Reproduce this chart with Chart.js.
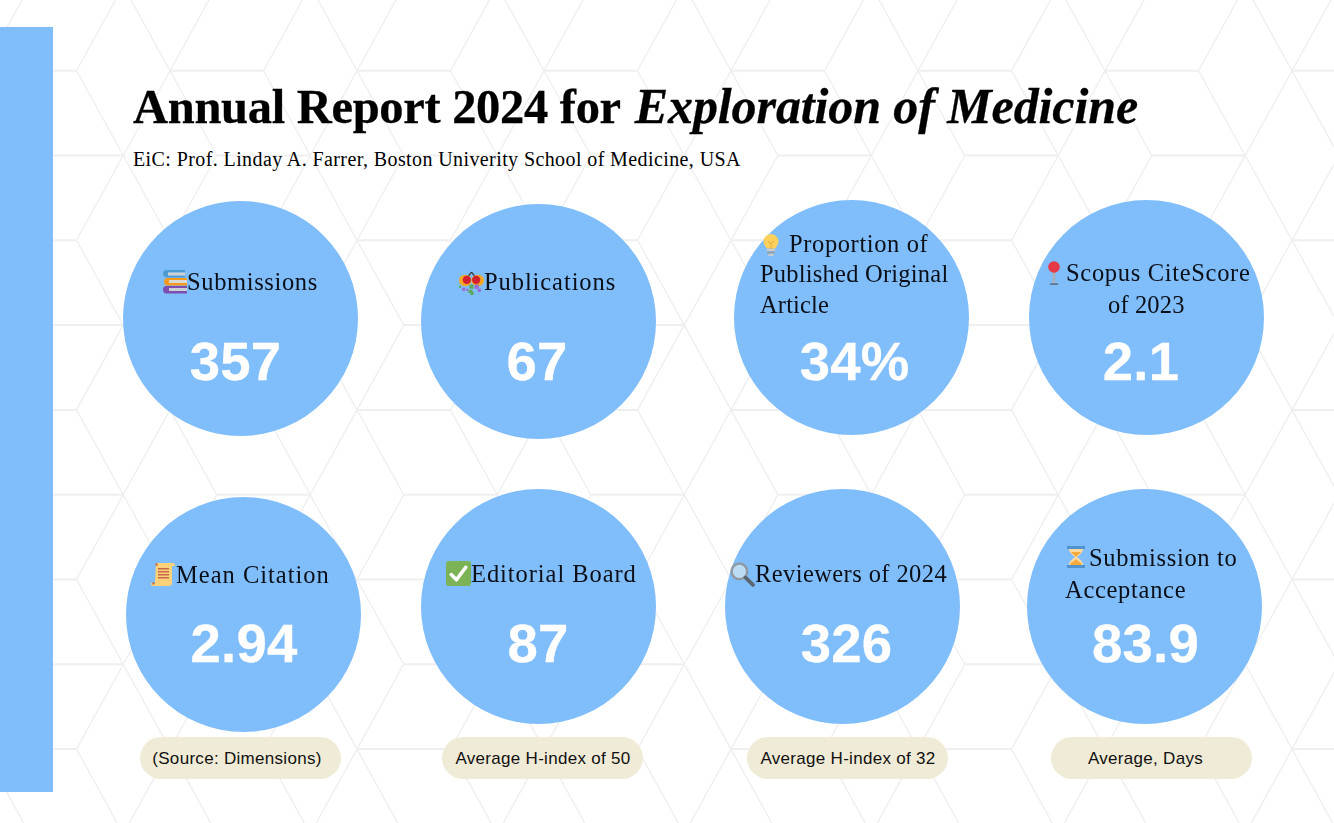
<!DOCTYPE html>
<html>
<head>
<meta charset="utf-8">
<title>Annual Report 2024 for Exploration of Medicine</title>
<script src="https://cdn.jsdelivr.net/npm/chart.js@4"></script>
<style>
html, body { margin: 0; padding: 0; background: #fff; }
#page { position: relative; width: 1334px; height: 823px; overflow: hidden; background: #fff; }
#page > * { position: absolute; }
#bar { left: 0; top: 27px; width: 53px; height: 765px; background: #80bdfb; }
canvas { display: block; }
.txt { white-space: nowrap; line-height: 1; }
.serif { font-family: "Liberation Serif", serif; color: #000; }
.sans { font-family: "Liberation Sans", sans-serif; }
.title { font-size: 48.5px; font-weight: bold; letter-spacing: -.3px; -webkit-text-stroke: .3px #000; }
.title i { font-size: 50px; letter-spacing: -.1px; margin-left: 3px; }
.sub { font-size: 20px; letter-spacing: .4px; }
.label { font-size: 24.5px; color: #0a0f18; }
.value { font-size: 54.5px; font-weight: bold; color: #fff; letter-spacing: .2px; -webkit-text-stroke: .3px #fff; transform: translateX(-50%); }
.note { font-size: 17px; letter-spacing: .3px; color: #111; transform: translateX(-50%); }
.pill { background: #f0ebd6; border-radius: 21px; width: 201px; height: 42px; }
</style>
</head>
<body>
<div id="page">
  <svg id="bg" width="1334" height="823" style="left:0;top:0"></svg>
  <div id="bar"></div>
</div>
<script>
// data
const titleText = "Annual Report 2024 for ";
const titleJournal = "Exploration of Medicine";
const subtitle = "EiC: Prof. Linday A. Farrer, Boston Univerity School of Medicine, USA";
const tileLabels = [
    ["Submissions"],
    ["Publications"],
    ["Proportion of", "Published Original", "Article"],
    ["Scopus CiteScore", "of 2023"],
    ["Mean Citation"],
    ["Editorial Board"],
    ["Reviewers of 2024"],
    ["Submission to", "Acceptance"],
];
const tileValues = [357, 67, 34, 2.1, 2.94, 87, 326, 83.9];
const tileUnits = ["", "", "%", "", "", "", "", ""];
const notes = ["(Source: Dimensions)", "Average H-index of 50", "Average H-index of 32", "Average, Days"];

// layout, in page pixels
const circleCenters = [[240.5, 318.5], [538.5, 321.5], [851, 317.5], [1146, 317.5], [243, 614.5], [538.5, 606.5], [842, 606.5], [1144, 606.5]];
const circleSize = 235;
// left, baseline, right end of each label line
const labelPos = [
    [[187, 291, 318]],
    [[484, 291, 616]],
    [[789, 253, 928], [760, 283, 948], [760, 314, 829]],
    [[1066, 282, 1251], [1108, 314, 1185]],
    [[176, 584, 330]],
    [[471, 583, 637]],
    [[755, 583, 947]],
    [[1089, 567, 1238], [1065, 599, 1186]],
];
const valuePos = [[235.5, 381], [537, 381], [854.5, 381], [1141, 381], [244, 663], [538, 663], [846.5, 663], [1145.5, 663]];
const pillLeft = [140, 442, 747, 1050.5];
const noteCenter = [237, 543, 848, 1145.5];
const iconBox = [[163, 270, 24], [459, 270, 25], [759, 233, 24], [1042, 261, 24], [151, 562, 24], [446, 561, 25], [730, 562, 25], [1064, 545, 24]];

const page = document.getElementById("page");

// hexagon background
function drawBackground() {
    const w = 93.5, h = 84.8;
    let flat = "", slant = "";
    for (let j = -1; j < 6; j++) {
        for (let i = -1; i < 9; i++) {
            const ax = 170 + i * 187, ay = 70.7 + j * 2 * h;
            const cx = ax + w / 2, cy = ay + h;
            const bx = ax + w, dx = bx + w / 2;
            flat += `M${ax} ${ay}L${bx} ${ay}`;
            flat += `M${cx} ${cy}L${dx} ${cy}`;
            slant += `M${ax} ${ay}L${cx} ${cy}`;
            slant += `M${ax} ${ay}L${dx - 187} ${cy}`;
            slant += `M${bx} ${ay}L${dx} ${cy}`;
            slant += `M${cx} ${cy}L${ax} ${cy + h}`;
            slant += `M${dx} ${cy}L${bx} ${cy + h}`;
            slant += `M${dx} ${cy}L${ax + 187} ${cy + h}`;
        }
    }
    document.getElementById("bg").innerHTML =
        `<path d="${slant}" fill="none" stroke="#eeeeee" stroke-width="1.3"/>` +
        `<path d="${flat}" fill="none" stroke="#efefef" stroke-width="2"/>`;
}

function addText(html, x, baseline, cls, fontSize, sans) {
    const el = document.createElement("div");
    el.className = "txt " + (sans ? "sans " : "serif ") + cls;
    el.innerHTML = html;
    el.style.left = x + "px";
    el.style.top = (baseline - fontSize * (sans ? 0.8465 : 0.8375)) + "px";
    page.appendChild(el);
    return el;
}

// small stand-ins for the emoji, there is no emoji font here
const icons = [
    // books
    `<path d="M3 0h19v2.500H5v3h17v2H4Q0 7 0 3.700T3 0z" fill="#4e9bd4"/><rect x="5" y="2.500" width="17" height="3" fill="#c9d0d8"/>
     <path d="M3 8h21v2H6v3h18v2.500H3Q1 14 1 11.700T3 8z" fill="#f59a1c"/><rect x="6" y="10" width="18" height="3" fill="#dcdad4"/>
     <path d="M3 16h21v2H6v3h18v2.500H3Q0 23 0 19.700T3 16z" fill="#7a4fb0"/><rect x="6" y="18" width="18" height="3" fill="#c9d0d8"/>`,
    // bouquet
    `<path d="M12 2L8 7M12 2l4 5" stroke="#333" stroke-width="1.200" fill="none"/>
     <ellipse cx="6" cy="10" rx="6" ry="5.500" fill="#f5a623"/><ellipse cx="18" cy="10" rx="6" ry="5.500" fill="#f5a623"/>
     <circle cx="7.500" cy="9.500" r="4" fill="#d32030"/><circle cx="16.500" cy="9.500" r="4" fill="#d32030"/>
     <g fill="#9a6ad0"><rect x="3" y="17" width="3" height="3"/><rect x="15" y="14" width="4" height="4"/><rect x="18" y="18" width="3" height="3"/><rect x="7" y="18" width="2" height="2"/></g>
     <g fill="#5ca85c"><rect x="10" y="14" width="4" height="4"/><rect x="9" y="19" width="4" height="3"/><rect x="11" y="21" width="3" height="3"/><rect x="0" y="15" width="2" height="2"/></g>`,
    // bulb
    `<path d="M12 1a7.500 7.500 0 0 0-7.500 7.500c0 3 2 4.500 3 7h9c1-2.500 3-4 3-7A7.500 7.500 0 0 0 12 1z" fill="#fdd15c"/>
     <path d="M9 8l3 3 3-3M12 11v5" stroke="#e9a93a" stroke-width="1" fill="none"/>
     <rect x="8" y="16" width="8" height="2" fill="#c9cdd2"/><rect x="8" y="18.500" width="8" height="2" fill="#9aa0a8"/><rect x="9.500" y="21" width="5" height="2" fill="#c9cdd2"/>`,
    // pin
    `<path d="M10.500 9h3L13 22h-2z" fill="#a8b0b8"/><rect x="8" y="22.500" width="8" height="1.200" fill="#555"/><circle cx="12" cy="6" r="5.800" fill="#e63946"/>`,
    // scroll
    `<path d="M5 1h17q2 0 2 3H21v17q0 3-3 3H2q-2 0-2-3h4z" fill="#fbd27a"/>
     <g fill="#c8674a"><rect x="7" y="6" width="11" height="1.500"/><rect x="7" y="9" width="11" height="1.500"/><rect x="7" y="12" width="11" height="1.500"/><rect x="7" y="15" width="11" height="1.500"/></g>
     <circle cx="5.500" cy="2.500" r="1.200" fill="#c8674a"/><circle cx="2.500" cy="21.500" r="1.200" fill="#c8674a"/>`,
    // check
    `<rect width="24" height="24" rx="3" fill="#7cb356"/><path d="M5 13l5 5L19 6" stroke="#fff" stroke-width="3.400" fill="none" stroke-linecap="round" stroke-linejoin="round"/>`,
    // magnifier
    `<circle cx="9" cy="9" r="7.500" fill="#bcdcf2" stroke="#8e9aa4" stroke-width="2.400"/><path d="M15 15l7 7" stroke="#5b6670" stroke-width="3.600" stroke-linecap="round"/>`,
    // hourglass
    `<rect x="3" y="1" width="18" height="3" fill="#4f94cf"/><rect x="3" y="20" width="18" height="3" fill="#4f94cf"/>
     <path d="M5 4h14c0 4-4 6-6 8 2 2 6 4 6 8H5c0-4 4-6 6-8-2-2-6-4-6-8z" fill="#fcd9a0"/>
     <path d="M7 7h10c-1 2-4 3-5 5-1-2-4-3-5-5zM12 14c1 2 5 3 6 6H6c1-3 5-4 6-6z" fill="#f9a83a"/>`,
];

function addIcon(i) {
    const b = iconBox[i];
    const holder = document.createElement("div");
    holder.style.left = b[0] + "px";
    holder.style.top = b[1] + "px";
    holder.innerHTML = `<svg width="${b[2]}" height="${b[2]}" viewBox="0 0 24 24" style="display:block">${icons[i]}</svg>`;
    page.appendChild(holder);
}

drawBackground();

addText(`${titleText}<i>${titleJournal}</i>`, 133, 122, "title", 48.5);
addText(subtitle, 133, 166, "sub", 20);

// each tile is a one slice pie
tileValues.forEach((val, i) => {
    const c = document.createElement("canvas");
    c.width = circleSize;
    c.height = circleSize;
    c.style.left = (circleCenters[i][0] - circleSize / 2) + "px";
    c.style.top = (circleCenters[i][1] - circleSize / 2) + "px";
    c.style.width = circleSize + "px";
    c.style.height = circleSize + "px";
    page.appendChild(c);
    new Chart(c.getContext("2d"), {
        type: "pie",
        data: {
            labels: [tileLabels[i].join(" ")],
            datasets: [{ data: [val], backgroundColor: "#80bdfb", borderWidth: 0 }],
        },
        options: {
            responsive: false,
            animation: false,
            layout: { padding: 0 },
            plugins: { legend: { display: false }, tooltip: { enabled: false } },
        },
    });
});

tileLabels.forEach((lines, i) => {
    lines.forEach((line, k) => {
        const pos = labelPos[i][k];
        const el = addText(line, pos[0], pos[1], "label", 24.5);
        // stretch the letter spacing so the line ends where the reference does
        el.style.letterSpacing = ((pos[2] - pos[0] - el.offsetWidth) / line.length) + "px";
    });
    addText(tileValues[i] + tileUnits[i], valuePos[i][0], valuePos[i][1], "value", 54.5, true);
    addIcon(i);
});

notes.forEach((note, i) => {
    const pill = document.createElement("div");
    pill.className = "pill";
    pill.style.left = pillLeft[i] + "px";
    pill.style.top = "737px";
    page.appendChild(pill);
    addText(note, noteCenter[i], 764, "note", 17, true);
});
</script>
</body>
</html>
